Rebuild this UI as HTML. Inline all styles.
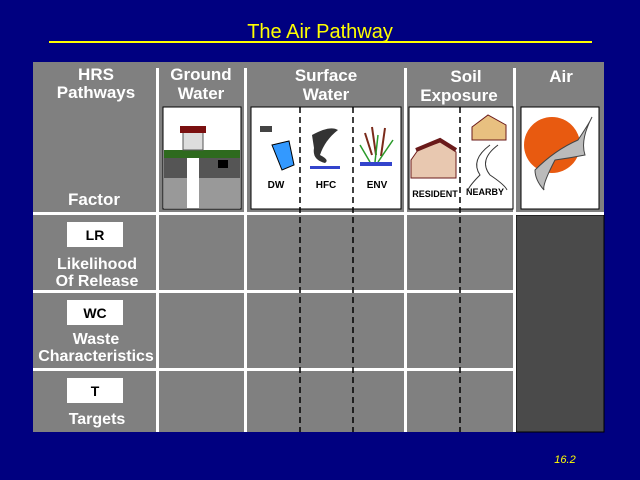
<!DOCTYPE html>
<html><head><meta charset="utf-8"><style>
html,body{margin:0;padding:0;background:#000080;width:640px;height:480px;overflow:hidden}
svg{display:block}
text{font-family:"Liberation Sans",Arial,sans-serif}
</style></head><body>
<svg width="640" height="480" viewBox="0 0 640 480" xmlns="http://www.w3.org/2000/svg">
<rect width="640" height="480" fill="#000080"/>
<text x="320" y="38" text-anchor="middle" font-size="20" fill="#ffff00">The Air Pathway</text>
<rect x="49" y="41" width="543" height="2" fill="#ffff00"/>
<rect x="33" y="62" width="571" height="370" fill="#808080"/>
<rect x="516" y="215" width="88" height="217" fill="#4a4a4a" stroke="#000" stroke-width="1"/>
<g fill="#fff">
<rect x="156" y="68" width="3" height="364"/>
<rect x="244" y="68" width="3" height="364"/>
<rect x="404" y="68" width="3" height="364"/>
<rect x="513" y="68" width="3" height="364"/>
<rect x="33" y="212" width="571" height="3"/>
<rect x="33" y="290" width="483" height="3"/>
<rect x="33" y="368" width="483" height="3"/>
</g>
<g fill="#fff" font-weight="bold" font-size="17" text-anchor="middle">
<text x="96" y="80">HRS</text><text x="96" y="98">Pathways</text>
<text x="94" y="205">Factor</text>
<text x="201" y="80">Ground</text><text x="201" y="99">Water</text>
<text x="326" y="81">Surface</text><text x="326" y="100">Water</text>
<text x="466" y="82">Soil</text><text x="459" y="101">Exposure</text>
<text x="561" y="82">Air</text>
</g>
<g fill="#fff" font-weight="bold" font-size="16" text-anchor="middle">
<text x="97" y="269">Likelihood</text><text x="97" y="286">Of Release</text>
<text x="96" y="344">Waste</text><text x="96" y="361">Characteristics</text>
<text x="97" y="424">Targets</text>
</g>
<g fill="#fff"><rect x="67" y="222" width="56" height="25"/><rect x="67" y="300" width="56" height="25"/><rect x="67" y="378" width="56" height="25"/></g>
<g font-weight="bold" font-size="14" text-anchor="middle" fill="#000">
<text x="95" y="240">LR</text><text x="95" y="318">WC</text><text x="95" y="396">T</text>
</g>
<g fill="#fff" stroke="#000" stroke-width="1">
<rect x="163" y="107" width="78" height="102"/>
<rect x="251" y="107" width="150" height="102"/>
<rect x="409" y="107" width="104" height="102"/>
<rect x="521" y="107" width="78" height="102"/>
</g>
<rect x="164" y="150" width="76" height="8" fill="#2e6a1e"/>
<rect x="164" y="158" width="76" height="20" fill="#555"/>
<rect x="164" y="178" width="76" height="30" fill="#999"/>
<rect x="187" y="158" width="12" height="50" fill="#fff"/>
<rect x="183" y="132" width="20" height="18" fill="#ddd" stroke="#555"/>
<rect x="180" y="126" width="26" height="7" fill="#7a1010"/>
<rect x="218" y="160" width="10" height="8" fill="#000"/>
<g stroke="#000" stroke-width="1.5" stroke-dasharray="6,4"><line x1="300" y1="107" x2="300" y2="432"/><line x1="353" y1="107" x2="353" y2="432"/><line x1="460" y1="107" x2="460" y2="432"/></g>
<rect x="260" y="126" width="12" height="6" fill="#444"/>
<path d="M272 145 L289 141 L294 165 L282 170 Z" fill="#3399ff" stroke="#000"/>
<path d="M312 135 Q330 125 338 130 Q325 140 320 155 Q330 160 325 163 Q312 160 314 148Z" fill="#333"/>
<rect x="310" y="166" width="30" height="3" fill="#3344cc"/>
<g stroke="#7a2a1a" stroke-width="2"><line x1="365" y1="133" x2="372" y2="155"/><line x1="372" y1="127" x2="376" y2="155"/><line x1="385" y1="128" x2="381" y2="156"/></g>
<g stroke="#2a9a2a" stroke-width="1.5"><line x1="370" y1="162" x2="360" y2="145"/><line x1="378" y1="162" x2="393" y2="140"/><line x1="375" y1="162" x2="378" y2="135"/></g>
<rect x="360" y="162" width="32" height="4" fill="#3344cc"/>
<g font-weight="bold" font-size="10" text-anchor="middle" fill="#000">
<text x="276" y="188">DW</text><text x="326" y="188">HFC</text><text x="377" y="188">ENV</text>
<text x="435" y="197" font-size="9">RESIDENT</text><text x="485" y="195" font-size="9">NEARBY</text>
</g>
<path d="M411 160 L418 150 L440 142 L456 152 L456 178 L411 178Z" fill="#e8c8b0" stroke="#6a1a1a"/>
<path d="M416 150 L440 140 L456 150" fill="none" stroke="#6a1a1a" stroke-width="4"/>
<path d="M472 127 L488 115 L506 125 L506 140 L472 140Z" fill="#e8c080" stroke="#6a1a1a"/>
<path d="M498 145 Q478 160 490 175 Q505 185 507 190 M490 145 Q470 160 480 175 Q470 185 468 190" fill="none" stroke="#333"/>
<circle cx="552" cy="145" r="28" fill="#e85a10"/>
<path d="M535 170 Q555 150 578 140 Q590 122 592 117 Q580 140 585 155 Q570 158 555 160 Q542 185 544 190 Q535 180 535 170Z" fill="#bbb" stroke="#444"/>
<text x="565" y="463" font-size="11" font-style="italic" fill="#ffff00" text-anchor="middle">16.2</text>
</svg>
</body></html>
